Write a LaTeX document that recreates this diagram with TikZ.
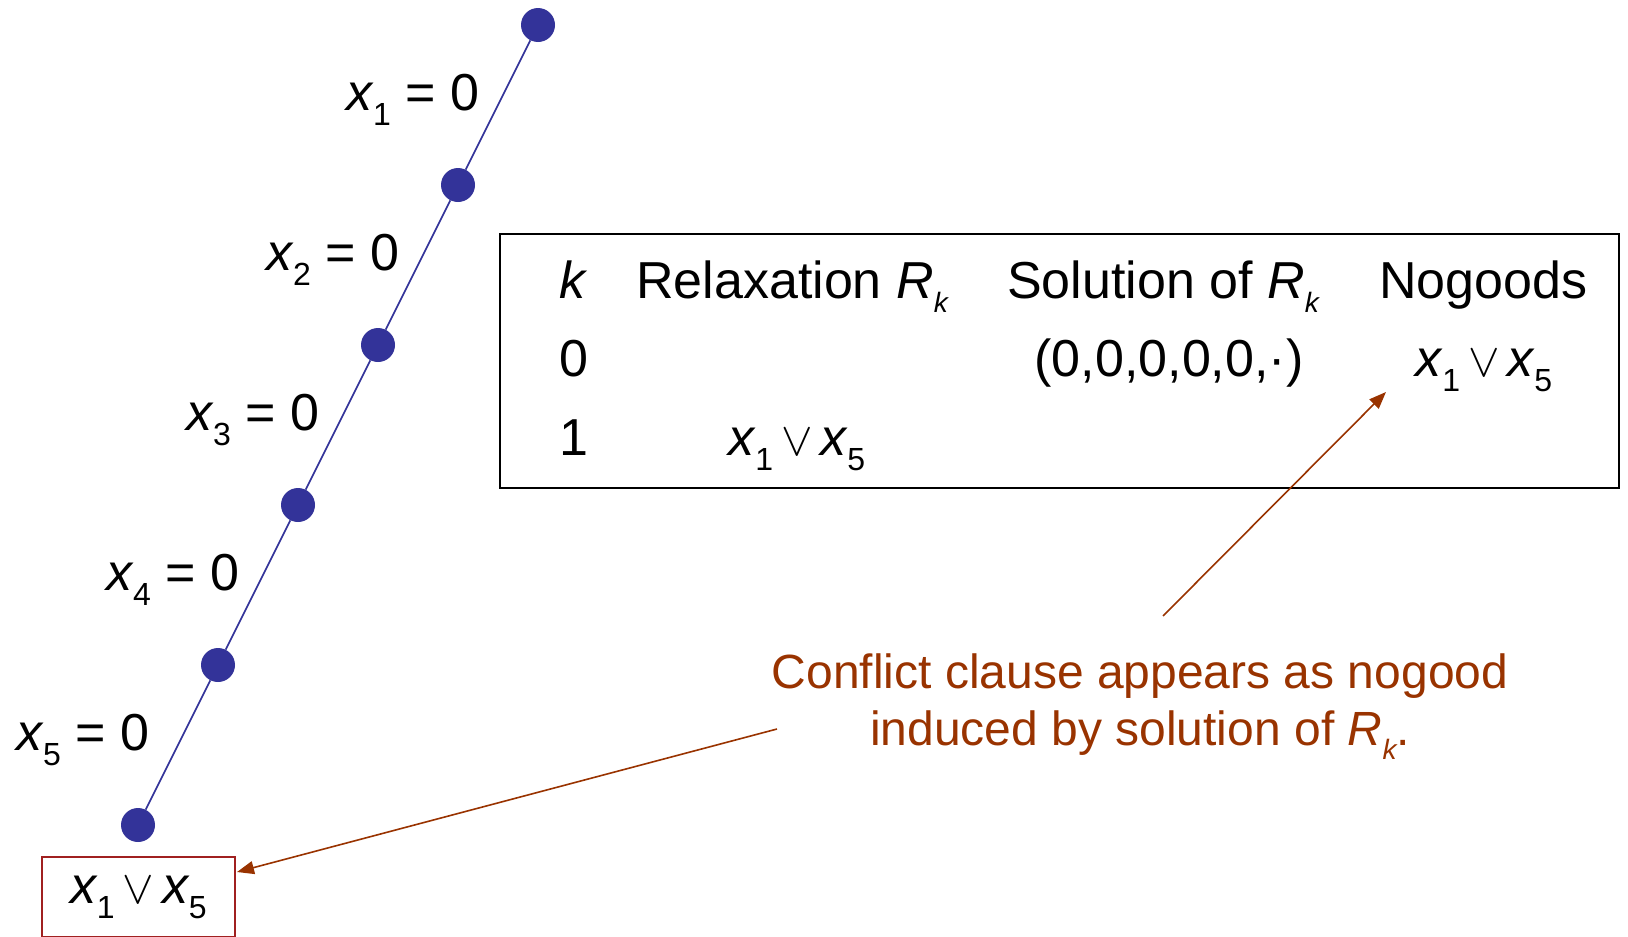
\documentclass[tikz,border=0pt]{standalone}
\usepackage{fontspec}
\setmainfont{Liberation Sans}
\usetikzlibrary{arrows.meta}
\definecolor{dotblue}{HTML}{333399}
\definecolor{notebrown}{HTML}{993300}
\definecolor{clauseframe}{HTML}{A02020}
\newcommand{\xs}[1]{\textit{x}\kern-1pt\raisebox{-15pt}{\fontsize{32}{32}\selectfont #1}}
\newcommand{\Rk}{\textit{R}\raisebox{-14pt}{\fontsize{28}{28}\selectfont\itshape k}}
\newcommand{\orsym}{\hspace{8pt}\scalebox{1.9}{$\vee$}\hspace{8pt}}
\newcommand{\cl}{\xs{1}\orsym\xs{5}}
\tikzset{
  dot/.style={circle, fill=dotblue, inner sep=0pt, minimum size=34pt},
  edge/.style={dotblue, line width=1.6pt},
  txt/.style={font=\fontsize{52}{58}\selectfont, inner sep=0pt},
  lbl/.style={txt, text=black, anchor=base east, xshift=-18pt, yshift=-5pt},
  note/.style={notebrown, line width=1.6pt}
}
\begin{document}
\begin{tikzpicture}[x=1pt, y=-1pt, >={Triangle[length=17pt,width=13pt]}]
\useasboundingbox (0,0) rectangle (1628,937);
\node[dot] (d1) at (538,25) {};
\node[dot] (d2) at (458,185) {};
\node[dot] (d3) at (378,345) {};
\node[dot] (d4) at (298,505) {};
\node[dot] (d5) at (218,665) {};
\node[dot] (d6) at (138,825) {};
\draw[edge] (d1) -- (d2) node[midway, lbl] {\xs{1} = 0};
\draw[edge] (d2) -- (d3) node[midway, lbl] {\xs{2} = 0};
\draw[edge] (d3) -- (d4) node[midway, lbl] {\xs{3} = 0};
\draw[edge] (d4) -- (d5) node[midway, lbl] {\xs{4} = 0};
\draw[edge] (d5) -- (d6) node[midway, lbl, xshift=-10pt] {\xs{5} = 0};
\coordinate (tabnw) at (500,234);
\coordinate (tabse) at (1619,488);
\draw[line width=1.6pt] (tabnw) rectangle (tabse);
\node[txt, anchor=base] (hk) at (574,298) {\textit{k}};
\node[txt, anchor=base west] (hrel) at (636,298) {Relaxation \Rk};
\node[txt, anchor=base west] (hsol) at (1007,298) {Solution of \Rk};
\node[txt, anchor=base west] (hnog) at (1379,298) {Nogoods};
\node[txt, anchor=base] (k0) at (574,376) {0};
\node[txt, anchor=base] (sol0) at (1169,376) {(0,0,0,0,0,·)};
\node[txt, anchor=base] (nog0) at (1484,376) {\cl};
\node[txt, anchor=base] (k1) at (574,455) {1};
\node[txt, anchor=base] (rel1) at (797,455) {\cl};
\node[draw=clauseframe, line width=1.6pt, txt, minimum width=193pt, minimum height=80pt] (clause) at (138.5,897) {\cl};
\node[txt, font=\fontsize{48}{57}\selectfont, notebrown, align=center, anchor=north] (conflict) at (1140,654)
  {Conflict clause appears as nogood\\induced by solution of \Rk.};
\coordinate (c1) at (1163,616);
\coordinate (c2) at (777,729);
\coordinate (nogtip) at (1386,392);
\coordinate (cltip) at (237,872);
\draw[note, ->] (c1) -- (nogtip);
\draw[note, ->] (c2) -- (cltip);
\end{tikzpicture}
\end{document}
